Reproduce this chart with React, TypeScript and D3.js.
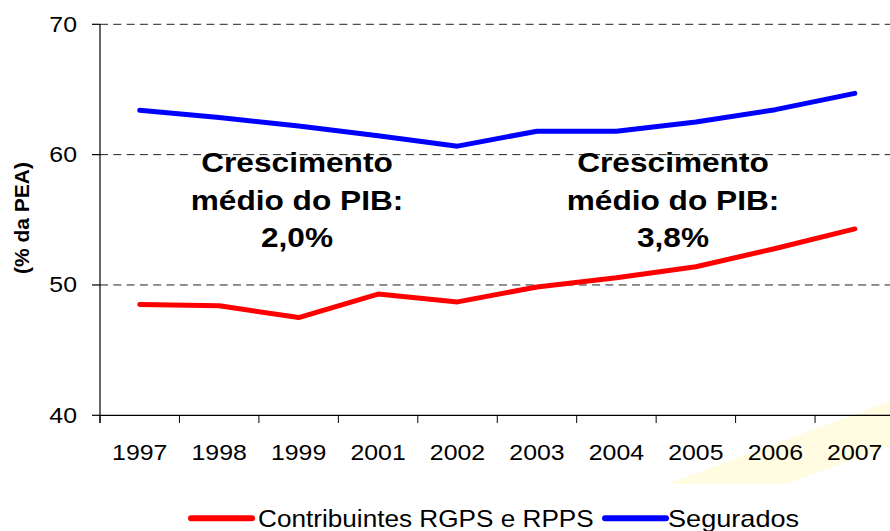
import React from "react";
import * as d3 from "d3";

const years = ["1997", "1998", "1999", "2001", "2002", "2003", "2004", "2005", "2006", "2007"];
const contribuintes = [48.5, 48.4, 47.5, 49.3, 48.7, 49.85, 50.55, 51.4, 52.8, 54.3];
const segurados = [63.4, 62.85, 62.2, 61.45, 60.65, 61.8, 61.8, 62.5, 63.45, 64.7];
const yTicks = [40, 50, 60, 70];
const gridTicks = [50, 60, 70];
const seriesNames = ["Contribuintes RGPS e RPPS", "Segurados"];
const notes = [
  ["Crescimento", "médio do PIB:", "2,0%"],
  ["Crescimento", "médio do PIB:", "3,8%"],
];

const W = 890;
const H = 531;
const FONT = "'Liberation Sans', Arial, sans-serif";
const SX = 1.13;

export default function App() {
  const x = d3.scaleBand<string>().domain(years).range([100, 894.5]).padding(0);
  const y = d3.scaleLinear().domain([40, 70]).range([415.3, 24.3]);
  const cx = (d: string) => (x(d) as number) + x.bandwidth() / 2;
  const line = d3
    .line<number>()
    .x((_, i) => cx(years[i]))
    .y((v) => y(v));

  const noteX = [297, 673];
  const noteBaselines = [172, 209.5, 247.3];

  return (
    <svg
      width={W}
      height={H}
      style={{ position: "absolute", left: 0, top: 0, background: "#fff" }}
      fontFamily={FONT}
    >
      <rect x={0} y={0} width={W} height={H} fill="#fff" />
      {/* faint decorative shape */}
      <polygon points="667,484 890,401 890,446 786,484" fill="#FFFBD6" opacity={0.7} />

      {/* gridlines */}
      {gridTicks.map((t) => (
        <line
          key={"g" + t}
          x1={100}
          x2={W}
          y1={y(t)}
          y2={y(t)}
          stroke="#222"
          strokeWidth={1}
          strokeDasharray="8,5.3"
        />
      ))}

      {/* axes */}
      <line x1={100} x2={100} y1={y(70)} y2={423} stroke="#000" strokeWidth={1.2} />
      <line x1={100} x2={W} y1={y(40)} y2={y(40)} stroke="#000" strokeWidth={1.2} />
      {yTicks.map((t) => (
        <line key={"yt" + t} x1={92} x2={100} y1={y(t)} y2={y(t)} stroke="#000" strokeWidth={1.2} />
      ))}
      {years.map((yr) => (
        <line
          key={"xt" + yr}
          x1={x(yr) as number}
          x2={x(yr) as number}
          y1={y(40)}
          y2={423}
          stroke="#000"
          strokeWidth={1}
        />
      ))}

      {/* y tick labels */}
      {yTicks.map((t) => (
        <g key={"yl" + t} transform={`translate(77,${y(t) + 7.5}) scale(${SX},1)`}>
          <text textAnchor="end" fontSize={22} fill="#000">
            {t}
          </text>
        </g>
      ))}

      {/* x tick labels */}
      {years.map((yr) => (
        <g key={"xl" + yr} transform={`translate(${cx(yr)},460) scale(${SX},1)`}>
          <text textAnchor="middle" fontSize={22} fill="#000">
            {yr}
          </text>
        </g>
      ))}

      {/* y axis title */}
      <text
        transform="translate(29,218) rotate(-90)"
        textAnchor="middle"
        fontSize={21}
        fontWeight="bold"
        fill="#000"
      >
        (% da PEA)
      </text>

      {/* series */}
      <path d={line(segurados) || ""} fill="none" stroke="#0000FF" strokeWidth={5} strokeLinejoin="round" strokeLinecap="round" />
      <path d={line(contribuintes) || ""} fill="none" stroke="#FF0000" strokeWidth={5} strokeLinejoin="round" strokeLinecap="round" />

      {/* annotations */}
      {notes.map((lines, k) =>
        lines.map((s, j) => (
          <g key={"n" + k + j} transform={`translate(${noteX[k]},${noteBaselines[j]}) scale(${SX},1)`}>
            <text textAnchor="middle" fontSize={28} fontWeight="bold" fill="#000">
              {s}
            </text>
          </g>
        ))
      )}

      {/* legend */}
      <line x1={191} x2={252} y1={518.3} y2={518.3} stroke="#FF0000" strokeWidth={6} strokeLinecap="round" />
      <g transform={`translate(258,527) scale(1.09,1)`}>
        <text fontSize={24} fill="#000">{seriesNames[0]}</text>
      </g>
      <line x1={605} x2={666} y1={518.3} y2={518.3} stroke="#0000FF" strokeWidth={6} strokeLinecap="round" />
      <g transform={`translate(668,527) scale(${SX},1)`}>
        <text fontSize={24} fill="#000">{seriesNames[1]}</text>
      </g>
    </svg>
  );
}
